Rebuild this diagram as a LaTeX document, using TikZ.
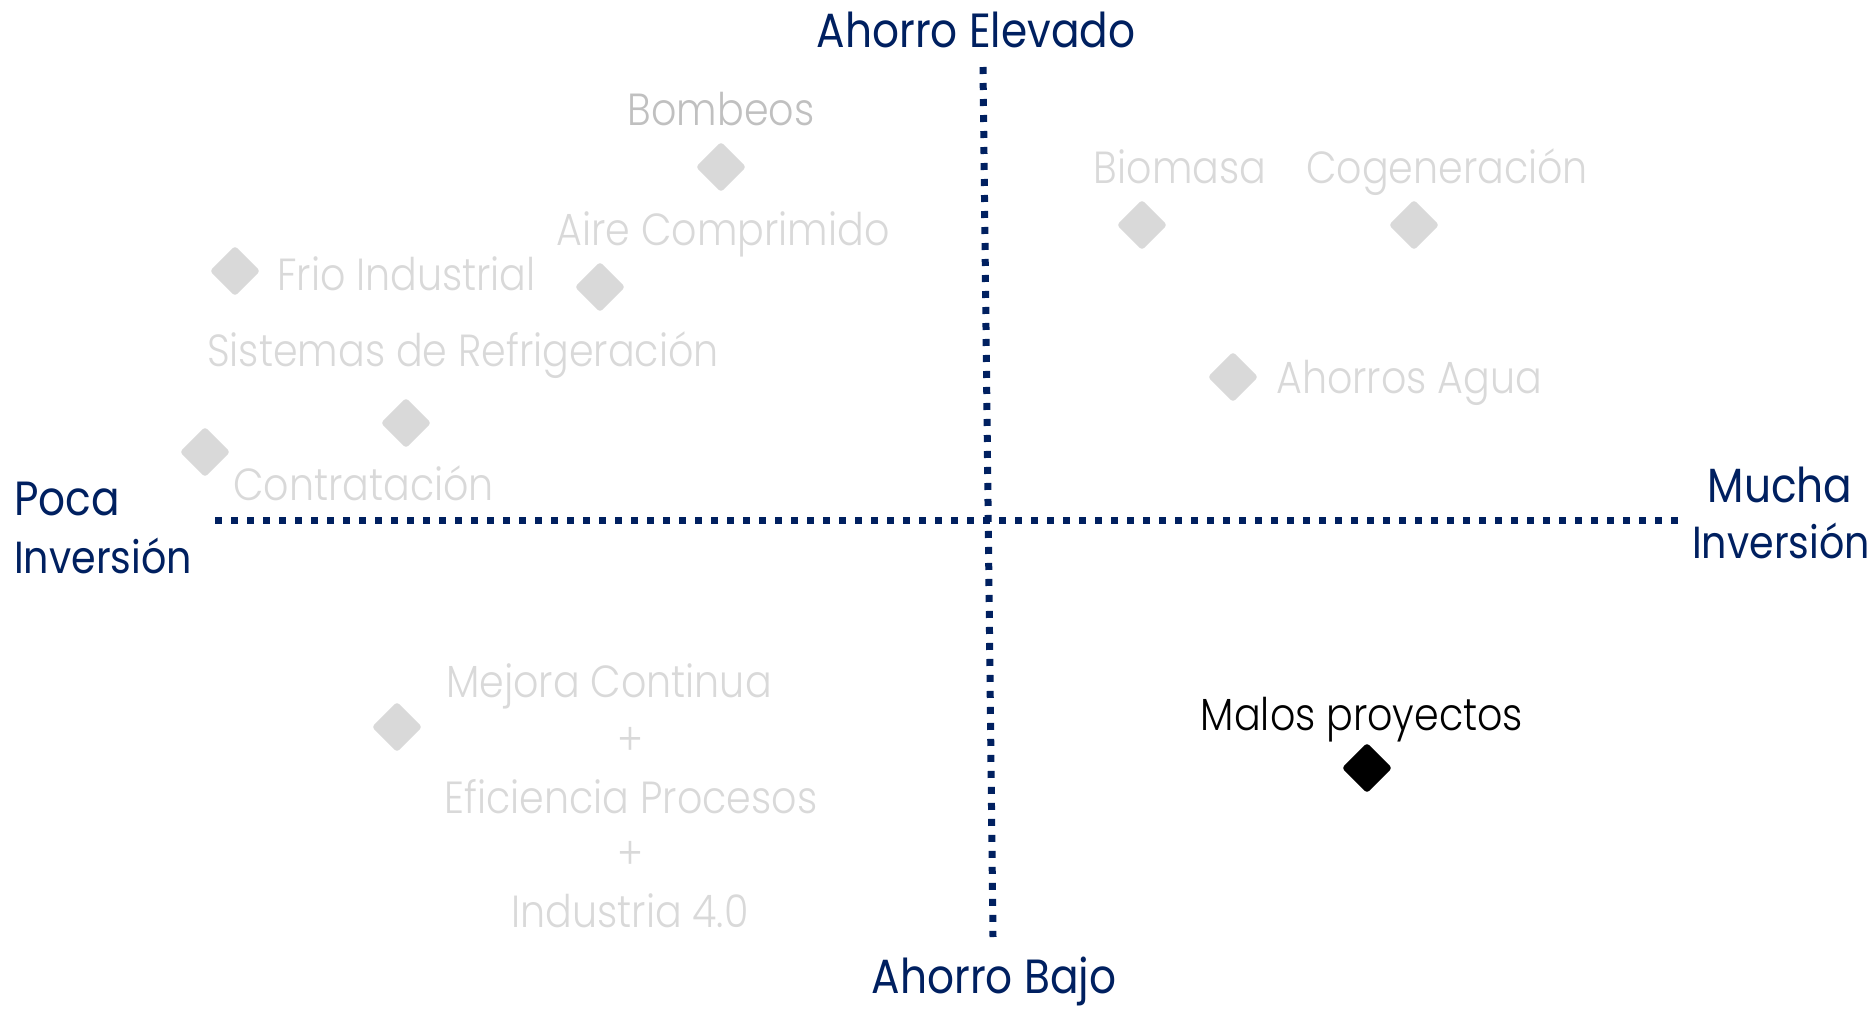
\documentclass[tikz,border=0pt]{standalone}
\usepackage{fontspec}
\setmainfont{Poppins}[FakeStretch=0.88]
\IfFontExistsTF{Poppins Light}{\newfontfamily\lightfont{Poppins Light}[FakeStretch=0.88]}{\newfontfamily\lightfont{Poppins}[FakeStretch=0.88]}
\definecolor{navy}{HTML}{002060}
\definecolor{lgray}{HTML}{D9D9D9}
\definecolor{mgray}{HTML}{C0C0C0}
\tikzset{
  axislabel/.style={text=navy, inner sep=0pt, font=\fontsize{48}{56}\selectfont},
  axislabelsm/.style={axislabel, font=\fontsize{45}{54}\selectfont},
  itemlabel/.style={text=lgray, inner sep=0pt, font=\lightfont\fontsize{45}{54}\selectfont},
  badlabel/.style={text=black, inner sep=0pt, font=\lightfont\fontsize{45}{54}\selectfont},
  diam/.style={rectangle, fill=lgray, inner sep=0pt, minimum size=35.4pt, rotate=45, rounded corners=3pt},
  baddiam/.style={diam, fill=black},
  axisline/.style={draw=navy, line width=7pt, dash pattern=on 7pt off 9pt}
}
\begin{document}
\begin{tikzpicture}[x=1pt,y=-1pt]
\useasboundingbox (0,0) rectangle (1875,1010);
% axes
\coordinate (vt) at (983,67);
\coordinate (vb) at (993,937);
\coordinate (hl) at (215,520);
\coordinate (hr) at (1680,520);
\draw[axisline] (hl) -- (hr);
\draw[axisline] (vt) -- (vb);
% axis labels
\node[axislabel, anchor=base] (top) at (976,47) {Ahorro Elevado};
\node[axislabel, anchor=base] (bottom) at (994,993) {Ahorro Bajo};
\node[axislabel, anchor=base west] (left1) at (14,515) {Poca};
\node[axislabelsm, anchor=base west] (left2) at (14,573) {Inversión};
\node[axislabel, anchor=base] (right1) at (1780,502) {Mucha};
\node[axislabelsm, anchor=base] (right2) at (1781,558) {Inversión};
% items
\node[diam] (dbom) at (721,167) {};
\node[itemlabel, anchor=base, text=mgray] (lbom) at (721,125) {Bombeos};
\node[diam] (daire) at (600,287) {};
\node[itemlabel, anchor=base] (laire) at (723,245) {Aire Comprimido};
\node[diam] (dfrio) at (235,271) {};
\node[itemlabel, anchor=base west] (lfrio) at (277,290) {Frio Industrial};
\node[diam] (dsis) at (406,423) {};
\node[itemlabel, anchor=base west] (lsis) at (207,366) {Sistemas de Refrigeración};
\node[diam] (dcon) at (205,452) {};
\node[itemlabel, anchor=base west] (lcon) at (233,500) {Contratación};
\node[diam] (dbio) at (1142,225) {};
\node[itemlabel, anchor=base] (lbio) at (1180,183) {Biomasa};
\node[diam] (dcog) at (1414,225) {};
\node[itemlabel, anchor=base] (lcog) at (1447,183) {Cogeneración};
\node[diam] (dagua) at (1233,377) {};
\node[itemlabel, anchor=base west] (lagua) at (1276,393) {Ahorros Agua};
\node[diam] (dmej) at (397,727) {};
\node[itemlabel, anchor=base] (lmej1) at (609,697) {Mejora Continua};
\node[itemlabel, anchor=center] (lmej2) at (630,741) {+};
\node[itemlabel, anchor=base] (lmej3) at (631,813) {Eficiencia Procesos};
\node[itemlabel, anchor=center] (lmej4) at (630,855) {+};
\node[itemlabel, anchor=base] (lmej5) at (630,927) {Industria 4.0};
\node[baddiam] (dbad) at (1367,768) {};
\node[badlabel, anchor=base] (lbad) at (1362,730) {Malos proyectos};
\end{tikzpicture}
\end{document}
